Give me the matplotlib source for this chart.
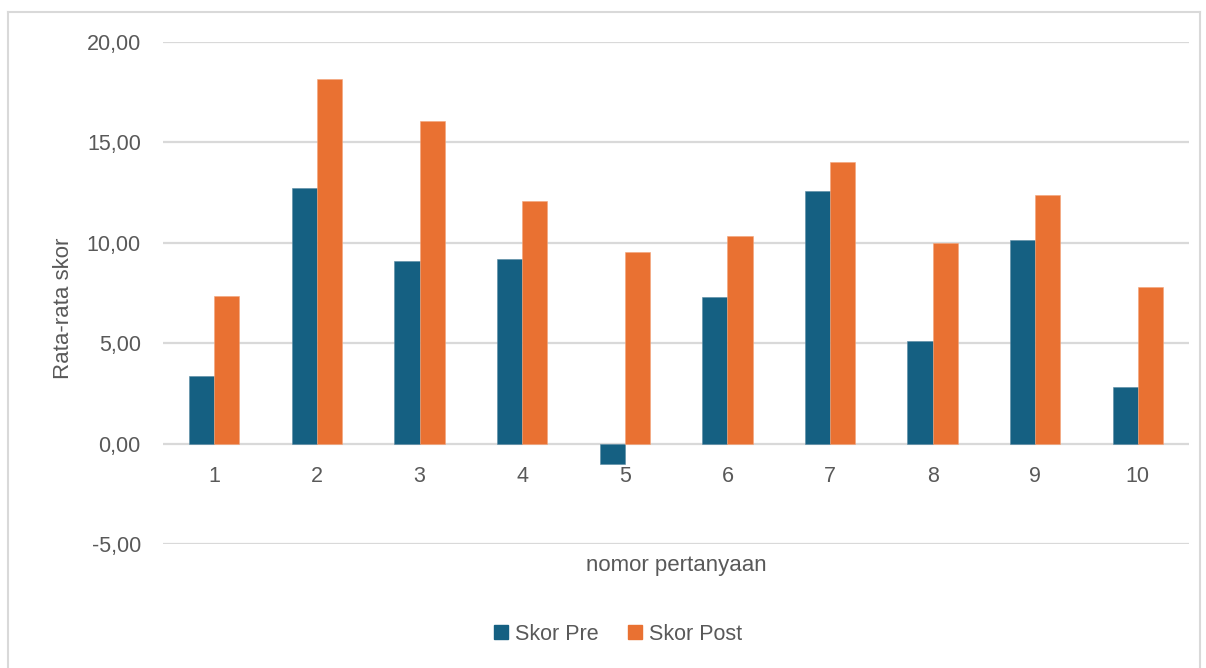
import numpy as np
import matplotlib.pyplot as plt
from matplotlib.lines import Line2D
from matplotlib.patches import Patch

plt.rcParams["font.family"] = ["Liberation Sans", "DejaVu Sans"]

questions = ["1", "2", "3", "4", "5", "6", "7", "8", "9", "10"]
skor_pre = [3.37, 12.72, 9.12, 9.19, -1.01, 7.28, 12.57, 5.09, 10.15, 2.80]
skor_post = [7.33, 18.14, 16.08, 12.10, 9.52, 10.33, 14.05, 9.97, 12.39, 7.79]

col_pre = "#156082"
col_post = "#E97132"
text_col = "#595959"
grid_col = "#d9d9d9"

fig = plt.figure(figsize=(12.06, 6.68), dpi=100)
ax = fig.add_axes([0.1352, 0.1856, 0.8508, 0.7514])

x = np.arange(len(questions))
w = 0.245
ax.bar(x - w / 2, skor_pre, w, color=col_pre, edgecolor="#5a8aa3", linewidth=0.4, zorder=3)
ax.bar(x + w / 2, skor_post, w, color=col_post, edgecolor="#f3a57a", linewidth=0.4, zorder=3)

ax.set_xlim(-0.5, len(questions) - 0.5)
ax.set_ylim(-5, 20)
yt = [-5, 0, 5, 10, 15, 20]
ax.set_yticks(yt)
ax.set_yticklabels([f"{v:.2f}".replace(".", ",") for v in yt])
ax.yaxis.grid(True, color=grid_col, linewidth=1.6, zorder=0)
ax.set_axisbelow(True)

for s in ["top", "right", "left"]:
    ax.spines[s].set_visible(False)
ax.spines["bottom"].set_position(("data", 0))
ax.spines["bottom"].set_visible(False)

ax.set_xticks(x)
ax.set_xticklabels(questions)
ax.tick_params(axis="x", length=0, pad=16, labelsize=15.5, labelcolor=text_col)
ax.tick_params(axis="y", length=0, pad=16, labelsize=15.5, labelcolor=text_col)

ax.set_ylabel("Rata-rata skor", fontsize=16, color=text_col)
ax.yaxis.set_label_coords(-0.087, 0.47)
fig.text(0.5605, 1 - 565 / 668, "nomor pertanyaan", fontsize=16, color=text_col,
         ha="center", va="center")

handles = [Patch(facecolor=col_pre, edgecolor=col_pre),
           Patch(facecolor=col_post, edgecolor=col_post)]
fig.legend(handles, ["Skor Pre", "Skor Post"], loc="center",
           bbox_to_anchor=(618 / 1206, 1 - 634 / 668), ncol=2, frameon=False,
           fontsize=15.5, labelcolor=text_col, handlelength=0.65, handleheight=0.65,
           handletextpad=0.3, columnspacing=1.4)

# chart area border
for xs, ys in [([8 / 1206, 8 / 1206], [0, 1 - 12 / 668]),
               ([8 / 1206, 1200 / 1206], [1 - 12 / 668, 1 - 12 / 668]),
               ([1200 / 1206, 1200 / 1206], [0, 1 - 12 / 668])]:
    fig.add_artist(Line2D(xs, ys, color=grid_col, linewidth=1.5))

fig.savefig("out.png", dpi=100)
